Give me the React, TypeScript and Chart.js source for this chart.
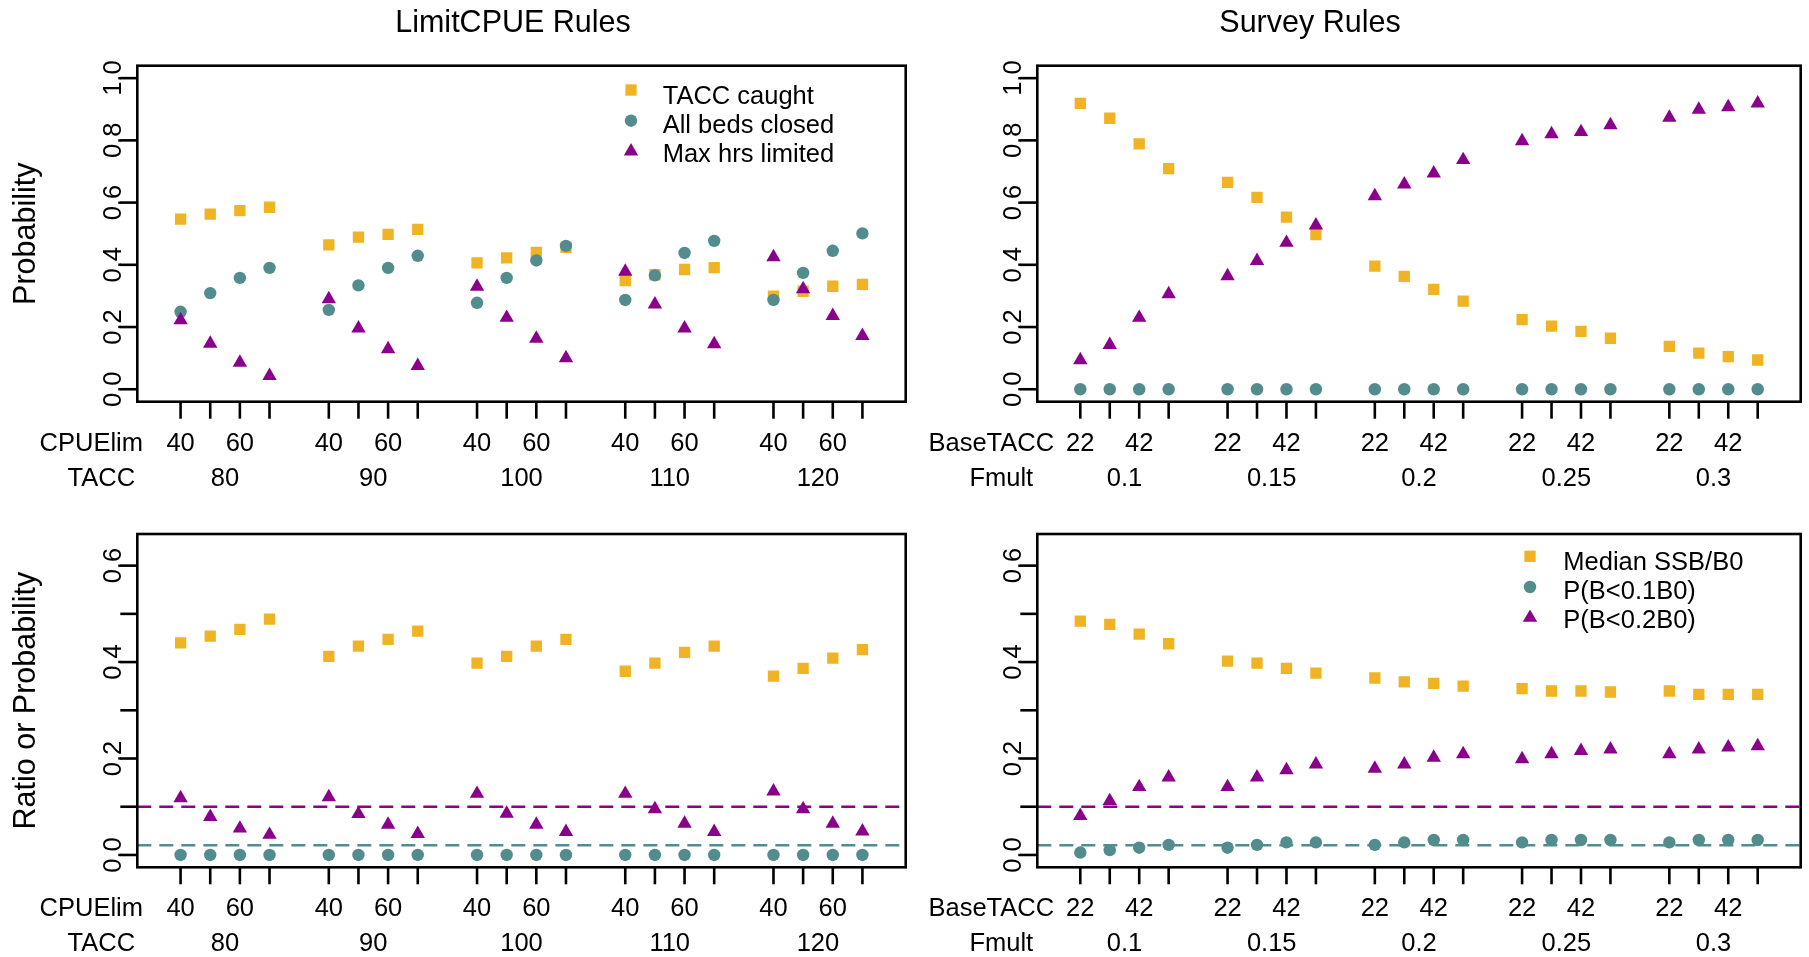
import React, { useEffect, useRef } from 'react';
import { Chart, registerables } from 'chart.js';

Chart.register(...registerables);

const PAGE_W = 1809;
const PAGE_H = 957;
const FONT = '"Liberation Sans", Arial, Helvetica, sans-serif';

const GOLD = '#F0B323';
const TEAL = '#528C8C';
const PURPLE = '#8B008B';

// ---- categories / tick labels ----
const cpueLim = [40, 50, 60, 70];
const taccLevels = [80, 90, 100, 110, 120];
const baseTacc = [22, 32, 42, 52];
const fmultLevels = ['0.1', '0.15', '0.2', '0.25', '0.3'];
const probTicks = [0, 0.2, 0.4, 0.6, 0.8, 1.0];
const ratioTicks = [0, 0.1, 0.2, 0.3, 0.4, 0.5, 0.6];

// ---- LimitCPUE rules: outcome probabilities ----
const limitTaccCaught = [0.547, 0.563, 0.574, 0.585, 0.464, 0.489, 0.498, 0.514, 0.406, 0.422, 0.440, 0.456, 0.349, 0.368, 0.385, 0.391, 0.299, 0.315, 0.331, 0.337];
const limitBedsClosed = [0.249, 0.309, 0.358, 0.390, 0.255, 0.334, 0.390, 0.429, 0.278, 0.358, 0.414, 0.461, 0.287, 0.366, 0.438, 0.477, 0.287, 0.374, 0.445, 0.501];
const limitMaxHrs = [0.222, 0.147, 0.086, 0.043, 0.290, 0.196, 0.129, 0.075, 0.330, 0.230, 0.163, 0.100, 0.378, 0.273, 0.196, 0.145, 0.425, 0.322, 0.236, 0.172];

// ---- Survey rules: outcome probabilities ----
const surveyTaccCaught = [0.919, 0.871, 0.789, 0.709, 0.665, 0.617, 0.553, 0.497, 0.396, 0.363, 0.321, 0.283, 0.224, 0.203, 0.186, 0.164, 0.138, 0.116, 0.105, 0.094];
const surveyBedsClosed = [0, 0, 0, 0, 0, 0, 0, 0, 0, 0, 0, 0, 0, 0, 0, 0, 0, 0, 0, 0];
const surveyMaxHrs = [0.094, 0.143, 0.230, 0.306, 0.364, 0.413, 0.471, 0.527, 0.621, 0.659, 0.694, 0.737, 0.798, 0.820, 0.827, 0.849, 0.873, 0.899, 0.907, 0.919];

// ---- LimitCPUE rules: stock status ----
const limitSsb = [0.440, 0.454, 0.468, 0.489, 0.412, 0.433, 0.447, 0.464, 0.398, 0.412, 0.433, 0.447, 0.381, 0.398, 0.420, 0.433, 0.371, 0.387, 0.408, 0.426];
const limitP01 = [0, 0, 0, 0, 0, 0, 0, 0, 0, 0, 0, 0, 0, 0, 0, 0, 0, 0, 0, 0];
const limitP02 = [0.118, 0.079, 0.055, 0.042, 0.120, 0.085, 0.063, 0.044, 0.127, 0.086, 0.063, 0.048, 0.127, 0.095, 0.065, 0.048, 0.132, 0.095, 0.065, 0.049];

// ---- Survey rules: stock status ----
const surveySsb = [0.485, 0.478, 0.458, 0.438, 0.402, 0.398, 0.387, 0.377, 0.367, 0.359, 0.356, 0.350, 0.345, 0.340, 0.340, 0.338, 0.340, 0.333, 0.333, 0.333];
const surveyP01 = [0.005, 0.010, 0.015, 0.021, 0.015, 0.021, 0.026, 0.026, 0.021, 0.026, 0.031, 0.031, 0.026, 0.031, 0.031, 0.031, 0.026, 0.031, 0.031, 0.031];
const surveyP02 = [0.081, 0.112, 0.141, 0.161, 0.141, 0.161, 0.176, 0.188, 0.179, 0.188, 0.202, 0.209, 0.199, 0.209, 0.216, 0.219, 0.209, 0.219, 0.223, 0.226];

// reference levels drawn as dashed lines on the stock-status panels
const p02Limit = 0.1;
const p01Limit = 0.02;

const probLegend = ['TACC caught', 'All beds closed', 'Max hrs limited'];
const statusLegend = ['Median SSB/B0', 'P(B<0.1B0)', 'P(B<0.2B0)'];

// x axis: groups of 4 slots separated by one empty slot
const X_MIN = -0.46;
const X_MAX = 25.46;
const slotOf = (g: number, i: number) => g * 5 + i + 1;

type Shape = 'rect' | 'circle' | 'triangle';
const SHAPES: Shape[] = ['rect', 'circle', 'triangle'];
const COLORS = [GOLD, TEAL, PURPLE];
const RADII = [8, 6.2, 8.3];

interface PanelCfg {
  key: string;
  box: { l: number; t: number; r: number; b: number };
  yMin: number;
  yMax: number;
  yTicks: number[];
  yLabelStep: number;
  title?: string;
  titleX?: number;
  yTitle?: string;
  rowNames: [string, string];
  inner: (number | string)[];
  groups: (number | string)[];
  series: number[][];
  lines?: number[];
  legend?: { labels: string[]; markerX: number; textX: number; firstY: number };
}

const panels: PanelCfg[] = [
  {
    key: 'tl',
    box: { l: 137.3, t: 65.7, r: 905.7, b: 401.7 },
    yMin: -0.04, yMax: 1.04, yTicks: probTicks, yLabelStep: 1,
    title: 'LimitCPUE Rules', titleX: 513,
    yTitle: 'Probability',
    rowNames: ['CPUElim', 'TACC'],
    inner: cpueLim, groups: taccLevels,
    series: [limitTaccCaught, limitBedsClosed, limitMaxHrs],
    legend: { labels: probLegend, markerX: 631, textX: 662.7, firstY: 94.5 },
  },
  {
    key: 'tr',
    box: { l: 1037.3, t: 65.7, r: 1805.3, b: 401.7 },
    yMin: -0.04, yMax: 1.04, yTicks: probTicks, yLabelStep: 1,
    title: 'Survey Rules', titleX: 1310,
    rowNames: ['BaseTACC', 'Fmult'],
    inner: baseTacc, groups: fmultLevels,
    series: [surveyTaccCaught, surveyBedsClosed, surveyMaxHrs],
  },
  {
    key: 'bl',
    box: { l: 137.3, t: 534, r: 905.7, b: 867.3 },
    yMin: -0.0256, yMax: 0.6656, yTicks: ratioTicks, yLabelStep: 2,
    yTitle: 'Ratio or Probability',
    rowNames: ['CPUElim', 'TACC'],
    inner: cpueLim, groups: taccLevels,
    series: [limitSsb, limitP01, limitP02],
    lines: [p02Limit, p01Limit],
  },
  {
    key: 'br',
    box: { l: 1037.3, t: 534, r: 1805.3, b: 867.3 },
    yMin: -0.0256, yMax: 0.6656, yTicks: ratioTicks, yLabelStep: 2,
    rowNames: ['BaseTACC', 'Fmult'],
    inner: baseTacc, groups: fmultLevels,
    series: [surveySsb, surveyP01, surveyP02],
    lines: [p02Limit, p01Limit],
    legend: { labels: statusLegend, markerX: 1530, textX: 1563.3, firstY: 560.8 },
  },
];

const LINE_COLORS = [PURPLE, TEAL];

function drawMarker(ctx: CanvasRenderingContext2D, shape: Shape, x: number, y: number, r: number, color: string) {
  ctx.save();
  ctx.fillStyle = color;
  ctx.beginPath();
  if (shape === 'rect') {
    const s = Math.SQRT1_2 * r;
    ctx.rect(x - s, y - s, 2 * s, 2 * s);
  } else if (shape === 'circle') {
    ctx.arc(x, y, r, 0, Math.PI * 2);
  } else {
    ctx.moveTo(x, y - r);
    ctx.lineTo(x + r * Math.sin((2 * Math.PI) / 3), y + r * 0.5);
    ctx.lineTo(x - r * Math.sin((2 * Math.PI) / 3), y + r * 0.5);
    ctx.closePath();
  }
  ctx.fill();
  ctx.restore();
}

function makeDecor(cfg: PanelCfg) {
  return {
    id: 'panelDecor_' + cfg.key,
    afterDraw(chart: any) {
      const ctx: CanvasRenderingContext2D = chart.ctx;
      const xs = chart.scales.x;
      const ys = chart.scales.y;
      const { left, right, top, bottom } = chart.chartArea;
      const tickLen = 17;
      const small = `25.5px ${FONT}`;
      const big = `30.5px ${FONT}`;
      ctx.save();
      ctx.strokeStyle = '#000';
      ctx.fillStyle = '#000';
      ctx.lineWidth = 2.6;
      ctx.lineCap = 'butt';

      // plot frame
      ctx.strokeRect(left, top, right - left, bottom - top);

      // y axis ticks and rotated labels
      ctx.font = small;
      cfg.yTicks.forEach((v, k) => {
        const y = ys.getPixelForValue(v);
        ctx.beginPath();
        ctx.moveTo(left - tickLen, y);
        ctx.lineTo(left, y);
        ctx.stroke();
        if (k % cfg.yLabelStep === 0) {
          ctx.save();
          ctx.translate(left - 16.3, y);
          ctx.rotate(-Math.PI / 2);
          ctx.textAlign = 'center';
          ctx.textBaseline = 'alphabetic';
          ctx.fillText(v.toFixed(1), 0, 0);
          ctx.restore();
        }
      });

      // x axis ticks, inner labels (every other one) and group labels
      ctx.textAlign = 'center';
      ctx.textBaseline = 'alphabetic';
      cfg.groups.forEach((gLabel, g) => {
        cfg.inner.forEach((iLabel, i) => {
          const x = xs.getPixelForValue(slotOf(g, i));
          ctx.beginPath();
          ctx.moveTo(x, bottom);
          ctx.lineTo(x, bottom + tickLen);
          ctx.stroke();
          if (i % 2 === 0) ctx.fillText(String(iLabel), x, bottom + 49);
        });
        const gc = xs.getPixelForValue((slotOf(g, 0) + slotOf(g, cfg.inner.length - 1)) / 2);
        ctx.fillText(String(gLabel), gc, bottom + 84);
      });
      ctx.fillText(cfg.rowNames[0], left - 46, bottom + 49);
      ctx.fillText(cfg.rowNames[1], left - 36, bottom + 84);

      // panel title
      if (cfg.title) {
        ctx.font = big;
        ctx.fillText(cfg.title, cfg.titleX!, 32.3);
      }

      // y axis title
      if (cfg.yTitle) {
        ctx.font = big;
        ctx.save();
        ctx.translate(35.3, (top + bottom) / 2);
        ctx.rotate(-Math.PI / 2);
        ctx.textAlign = 'center';
        ctx.fillText(cfg.yTitle, 0, 0);
        ctx.restore();
      }

      // legend
      if (cfg.legend) {
        const lg = cfg.legend;
        ctx.font = small;
        ctx.textAlign = 'left';
        const offsets = [-4.5, -3, -1.5];
        lg.labels.forEach((label, k) => {
          const cy = lg.firstY + k * 29.2;
          drawMarker(ctx, SHAPES[k], lg.markerX, cy + offsets[k], RADII[k], COLORS[k]);
          ctx.fillStyle = '#000';
          ctx.fillText(label, lg.textX, cy + 9.1);
        });
      }
      ctx.restore();
    },
  };
}

function buildConfig(cfg: PanelCfg): any {
  const datasets: any[] = cfg.series.map((vals, s) => ({
    label: cfg.legend ? cfg.legend.labels[s] : String(s),
    data: vals.map((v, idx) => ({ x: slotOf(Math.floor(idx / cfg.inner.length), idx % cfg.inner.length), y: v })),
    pointStyle: SHAPES[s],
    pointRadius: RADII[s],
    pointBackgroundColor: COLORS[s],
    pointBorderWidth: 0,
    borderWidth: 0,
    showLine: false,
    order: 10 - s,
  }));
  (cfg.lines || []).forEach((level, k) => {
    datasets.push({
      label: 'ref' + k,
      data: [{ x: X_MIN, y: level }, { x: X_MAX, y: level }],
      showLine: true,
      borderColor: LINE_COLORS[k],
      borderWidth: 2.6,
      borderDash: [14, 8],
      pointRadius: 0,
      fill: false,
      order: 1,
    });
  });
  return {
    type: 'scatter',
    data: { datasets },
    options: {
      animation: false,
      responsive: false,
      events: [],
      layout: {
        padding: {
          left: cfg.box.l,
          top: cfg.box.t,
          right: PAGE_W - cfg.box.r,
          bottom: PAGE_H - cfg.box.b,
        },
      },
      scales: {
        x: { type: 'linear', display: false, min: X_MIN, max: X_MAX },
        y: { type: 'linear', display: false, min: cfg.yMin, max: cfg.yMax },
      },
      plugins: {
        legend: { display: false },
        tooltip: { enabled: false },
        title: { display: false },
      },
    },
    plugins: [makeDecor(cfg)],
  };
}

function Panel({ cfg }: { cfg: PanelCfg }) {
  const ref = useRef<HTMLCanvasElement>(null);
  useEffect(() => {
    if (!ref.current) return;
    const chart = new Chart(ref.current, buildConfig(cfg));
    return () => chart.destroy();
  }, [cfg]);
  return (
    <canvas
      ref={ref}
      width={PAGE_W}
      height={PAGE_H}
      style={{ position: 'absolute', left: 0, top: 0, width: PAGE_W, height: PAGE_H }}
    />
  );
}

export default function App() {
  return (
    <div
      style={{
        position: 'absolute',
        left: 0,
        top: 0,
        width: PAGE_W,
        height: PAGE_H,
        background: '#ffffff',
        overflow: 'hidden',
      }}
    >
      {panels.map((p) => (
        <Panel key={p.key} cfg={p} />
      ))}
    </div>
  );
}
